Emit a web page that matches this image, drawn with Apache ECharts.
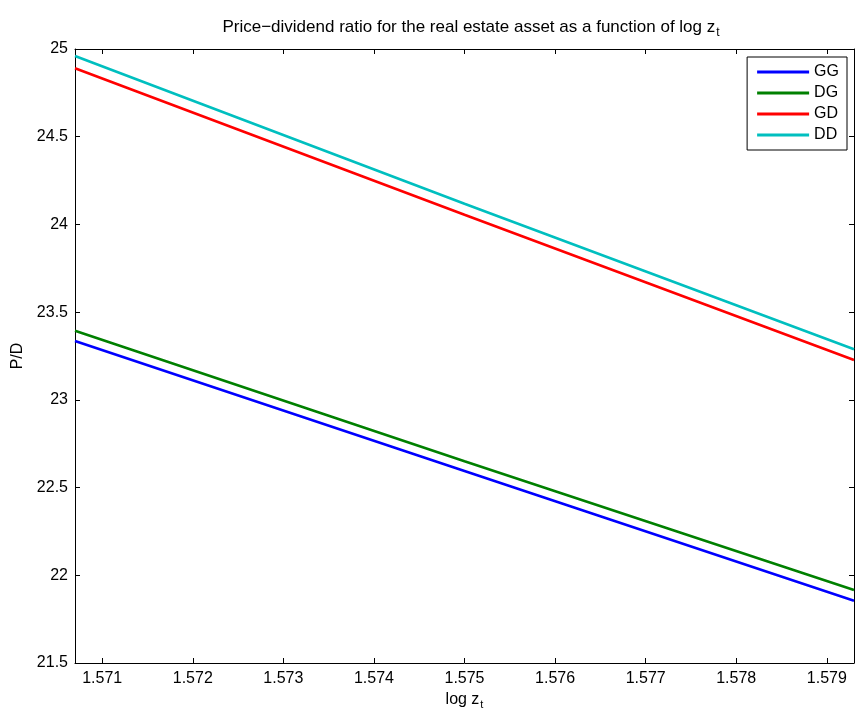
<!DOCTYPE html>
<html>
<head>
<meta charset="utf-8">
<script src="https://cdn.jsdelivr.net/npm/echarts@6/dist/echarts.min.js"></script>
<style>
  html, body {margin: 0; padding: 0; background: #fff;}
  #chart {width: 855px; height: 713px;}
</style>
</head>
<body>
<div id="chart"></div>
<script>
// x values (log z_t)
const logZ = [1.5707, 1.575, 1.5793];
// P/D for each case
const gg = [23.335, 22.595, 21.855];
const dg = [23.394, 22.650, 21.916];
const gd = [24.890, 24.055, 23.227];
const dd = [24.960, 24.118, 23.288];
const seriesNames = ['GG', 'DG', 'GD', 'DD'];
const xTicks = [1.571, 1.572, 1.573, 1.574, 1.575, 1.576, 1.577, 1.578, 1.579];
const yTicks = [21.5, 22, 22.5, 23, 23.5, 24, 24.5, 25];

const font = 'Liberation Sans, Arial, Helvetica, sans-serif';
const colors = ['#0000ff', '#008000', '#ff0000', '#00bfbf'];

const myChart = echarts.init(document.getElementById('chart'));

const pairs = (ys) => logZ.map((x, i) => [x, ys[i]]);

const xBase = {
  type: 'value',
  min: logZ[0],
  max: logZ[logZ.length - 1],
  splitLine: {show: false},
  axisLine: {lineStyle: {color: '#000', width: 1}},
  axisTick: {inside: true, length: 5, customValues: xTicks, lineStyle: {color: '#000'}},
};
const yBase = {
  type: 'value',
  min: yTicks[0],
  max: yTicks[yTicks.length - 1],
  interval: 0.5,
  splitLine: {show: false},
  axisLine: {lineStyle: {color: '#000', width: 1}},
  axisTick: {inside: true, length: 5, lineStyle: {color: '#000'}},
};

myChart.setOption({
  animation: false,
  backgroundColor: '#fff',
  title: {
    text: '{a|Price\u2212dividend ratio for the real estate asset as a function of log z}{s|t}',
    left: 466,
    top: 10,
    textAlign: 'center',
    textStyle: {
      rich: {
        a: {fontFamily: font, fontSize: 17, fontWeight: 'normal', color: '#000'},
        s: {fontFamily: font, fontSize: 12, fontWeight: 'normal', color: '#000', padding: [12, 0, 0, 1]}
      }
    }
  },
  grid: {left: 75, right: 1, top: 49, bottom: 50, containLabel: false, outerBoundsMode: 'none'},
  legend: {
    orient: 'vertical',
    right: 8,
    top: 57,
    padding: [6, 8, 6, 10],
    borderColor: '#000',
    borderWidth: 1,
    backgroundColor: '#fff',
    icon: 'rect',
    itemWidth: 52,
    itemHeight: 3,
    itemGap: 3,
    textStyle: {fontFamily: font, fontSize: 16, color: '#000', lineHeight: 18},
    data: seriesNames
  },
  xAxis: [
    {
      ...xBase,
      position: 'bottom',
      axisLabel: {
        customValues: xTicks,
        margin: 8,
        fontFamily: font, fontSize: 16, color: '#000',
        formatter: v => v.toFixed(3)
      },
      name: '{a|log z}{s|t}',
      nameLocation: 'middle',
      nameGap: 26,
      nameTextStyle: {
        rich: {
          a: {fontFamily: font, fontSize: 16, color: '#000'},
          s: {fontFamily: font, fontSize: 11, color: '#000', padding: [10, 0, 0, 1]}
        }
      }
    },
    {
      ...xBase,
      position: 'top',
      axisLabel: {show: false}
    }
  ],
  yAxis: [
    {
      ...yBase,
      position: 'left',
      axisLabel: {margin: 7, fontFamily: font, fontSize: 16, color: '#000'},
      name: 'P/D',
      nameLocation: 'middle',
      nameGap: 48,
      nameTextStyle: {fontFamily: font, fontSize: 16, color: '#000'}
    },
    {
      ...yBase,
      position: 'right',
      axisLabel: {show: false}
    }
  ],
  series: [gg, dg, gd, dd].map((ys, i) => ({
    name: seriesNames[i],
    type: 'line',
    data: pairs(ys),
    showSymbol: false,
    symbol: 'none',
    color: colors[i],
    lineStyle: {color: colors[i], width: 2.6},
    z: 2 + i
  }))
});
</script>
</body>
</html>
